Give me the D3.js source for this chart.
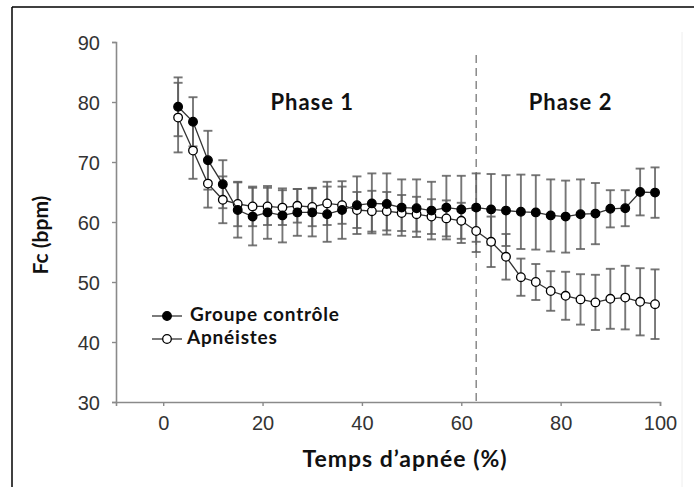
<!DOCTYPE html>
<html>
<head>
<meta charset="utf-8">
<script src="https://cdn.jsdelivr.net/npm/d3@7/dist/d3.min.js"></script>
<style>
  html, body { margin: 0; padding: 0; background: #fff; }
  svg { display: block; }
</style>
</head>
<body>
<svg id="chart" width="694" height="487"></svg>
<script>
// ---- data ----
const timePct = [3,6,9,12,15,18,21,24,27,30,33,36,39,42,45,48,51,54,57,60,63,66,69,72,75,78,81,84,87,90,93,96,99];
const controlMean = [79.2,76.7,70.3,66.3,62.0,60.9,61.6,61.1,61.6,61.6,61.3,62.0,62.8,63.1,63.0,62.4,62.3,61.9,62.4,62.1,62.4,62.1,61.9,61.7,61.6,61.1,60.9,61.3,61.4,62.2,62.3,65.0,64.9];
const controlSD   = [4.9,4.1,4.9,4.0,4.6,4.8,4.4,4.5,3.9,4.0,4.6,4.8,4.8,5.0,5.1,4.7,4.8,4.8,5.3,5.6,5.7,5.9,5.9,6.2,6.2,6.0,6.0,5.8,5.1,3.1,3.0,3.9,4.2];
const apneaMean   = [77.4,71.9,66.4,63.7,63.0,62.6,62.6,62.4,62.7,62.5,63.1,62.8,62.0,61.8,61.8,61.5,61.3,60.9,60.6,60.2,58.5,56.7,54.2,50.8,50.0,48.5,47.7,47.1,46.6,47.2,47.4,46.7,46.3];
const apneaSD     = [5.8,4.7,4.0,3.9,3.7,3.3,3.1,2.9,2.8,3.2,3.6,3.1,3.0,3.4,3.2,3.0,2.9,2.9,3.0,3.0,3.5,4.2,3.8,3.1,3.0,3.3,4.0,4.2,4.6,5.0,5.3,5.6,5.8];
const xTicks = [0,20,40,60,80,100];
const yTicks = [30,40,50,60,70,80,90];
const phaseBoundary = 63;
const phaseLabels = [{text: "Phase 1", x: 30}, {text: "Phase 2", x: 82}];
const seriesNames = ["Groupe contrôle", "Apnéistes"];
const xTitle = "Temps d\u2019apnée (%)";
const yTitle = "Fc (bpm)";

// ---- layout ----
const svg = d3.select("#chart");
const x = d3.scaleLinear().domain([-9.5, 100]).range([116, 660]);
const y = d3.scaleLinear().domain([30, 90]).range([402, 42]);
const axisColor = "#8a8a8a";
const textFont = "Lato, 'Open Sans', sans-serif";
const numFont = "'Liberation Sans', Arial, sans-serif";

// frame
svg.append("line").attr("x1", 12).attr("x2", 694).attr("y1", 7).attr("y2", 7).attr("stroke", "#000").attr("stroke-width", 1.5);
svg.append("line").attr("x1", 12).attr("x2", 12).attr("y1", 7).attr("y2", 487).attr("stroke", "#000").attr("stroke-width", 1.5);
svg.append("line").attr("x1", 682).attr("x2", 682).attr("y1", 32).attr("y2", 487).attr("stroke", "#eeeeee").attr("stroke-width", 1);

// y axis
const yAxis = svg.append("g").attr("transform", "translate(116,0)")
  .call(d3.axisLeft(y).tickValues(yTicks).tickSize(4).tickPadding(12).tickFormat(d3.format("d")));
// x axis
const xAxis = svg.append("g").attr("transform", "translate(0,402)")
  .call(d3.axisBottom(x).tickValues(xTicks).tickSize(4).tickPadding(10).tickFormat(d3.format("d")));
[yAxis, xAxis].forEach(g => {
  g.select(".domain").attr("stroke", axisColor).attr("stroke-width", 1.6);
  g.selectAll(".tick line").attr("stroke", axisColor).attr("stroke-width", 1.4);
  g.selectAll(".tick text").attr("fill", "#333").style("font-family", numFont).style("font-size", "20px");
});
yAxis.selectAll(".tick text").attr("dy", "0.35em");

// dashed phase line
svg.append("line")
  .attr("x1", x(phaseBoundary)).attr("x2", x(phaseBoundary))
  .attr("y1", 55).attr("y2", 402)
  .attr("stroke", "#777").attr("stroke-width", 1.3).attr("stroke-dasharray", "8,5");

// phase labels
svg.selectAll("text.phase").data(phaseLabels).enter().append("text")
  .attr("class", "phase")
  .attr("x", d => x(d.x)).attr("y", 110)
  .attr("text-anchor", "middle")
  .style("font-family", textFont).style("font-weight", "bold").style("font-size", "22px")
  .style("letter-spacing", "1px")
  .attr("fill", "#111")
  .text(d => d.text);

// error bars
function drawErrors(means, sds, cls) {
  const g = svg.append("g").attr("class", cls);
  const data = timePct.map((t, i) => ({t, m: means[i], s: sds[i]}));
  const cap = 4.5;
  g.selectAll("line.v").data(data).enter().append("line")
    .attr("x1", d => x(d.t)).attr("x2", d => x(d.t))
    .attr("y1", d => y(d.m + d.s)).attr("y2", d => y(d.m - d.s));
  g.selectAll("line.t").data(data).enter().append("line")
    .attr("x1", d => x(d.t) - cap).attr("x2", d => x(d.t) + cap)
    .attr("y1", d => y(d.m + d.s)).attr("y2", d => y(d.m + d.s));
  g.selectAll("line.b").data(data).enter().append("line")
    .attr("x1", d => x(d.t) - cap).attr("x2", d => x(d.t) + cap)
    .attr("y1", d => y(d.m - d.s)).attr("y2", d => y(d.m - d.s));
  g.selectAll("line").attr("stroke", "#5e5e5e").attr("stroke-width", 1.9).attr("stroke-opacity", 0.85);
}
drawErrors(controlMean, controlSD, "err-control");
drawErrors(apneaMean, apneaSD, "err-apnea");

// lines
const lineGen = d3.line().x(d => x(d[0])).y(d => y(d[1]));
function drawSeries(means, filled) {
  const pts = timePct.map((t, i) => [t, means[i]]);
  svg.append("path").datum(pts).attr("d", lineGen)
    .attr("fill", "none").attr("stroke", "#333").attr("stroke-width", 1.3);
  svg.append("g").selectAll("circle").data(pts).enter().append("circle")
    .attr("cx", d => x(d[0])).attr("cy", d => y(d[1])).attr("r", 4.3)
    .attr("fill", filled ? "#000" : "#fff")
    .attr("stroke", "#000").attr("stroke-width", 1.3);
}
drawSeries(apneaMean, false);
drawSeries(controlMean, true);

// legend
const legend = svg.append("g");
seriesNames.forEach((name, i) => {
  const ly = 316 + i * 23;
  legend.append("line").attr("x1", 152).attr("x2", 182).attr("y1", ly).attr("y2", ly)
    .attr("stroke", "#333").attr("stroke-width", 1.3);
  legend.append("circle").attr("cx", 167).attr("cy", ly).attr("r", 4.3)
    .attr("fill", i === 0 ? "#000" : "#fff").attr("stroke", "#000").attr("stroke-width", 1.3);
  legend.append("text").attr("x", i === 0 ? 190 : 187).attr("y", ly - 2).attr("dy", "0.35em")
    .style("font-family", textFont).style("font-weight", "bold").style("font-size", "19px")
    .style("letter-spacing", "0.8px")
    .attr("fill", "#111").text(name);
});

// axis titles
svg.append("text").attr("x", 405).attr("y", 467).attr("text-anchor", "middle")
  .style("font-family", textFont).style("font-weight", "bold").style("font-size", "23px")
  .style("letter-spacing", "1px")
  .attr("fill", "#111").text(xTitle);
svg.append("text").attr("transform", "translate(48,235) rotate(-90)").attr("text-anchor", "middle")
  .style("font-family", textFont).style("font-weight", "bold").style("font-size", "21px")
  .attr("fill", "#111").text(yTitle);
</script>
</body>
</html>
